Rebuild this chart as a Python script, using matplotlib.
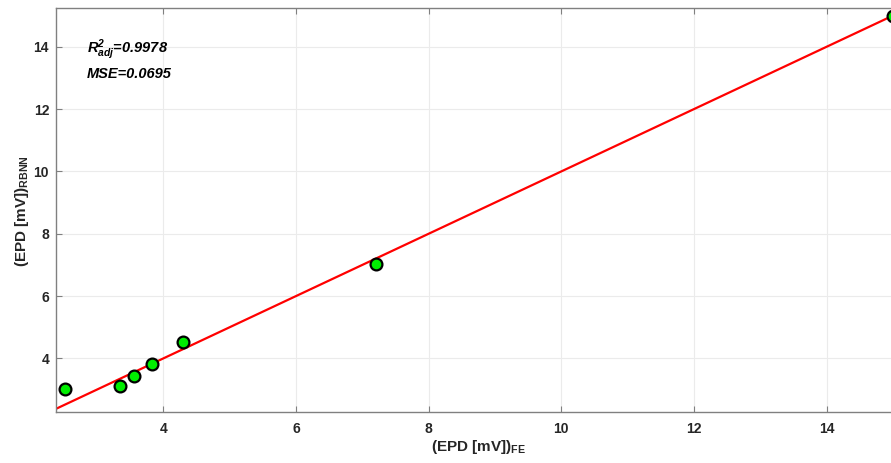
import numpy as np
import matplotlib
matplotlib.use('Agg')
import matplotlib.pyplot as plt

# data
epd_fe = [2.51, 3.34, 3.55, 3.83, 4.30, 7.20, 15.0]
epd_rbnn = [3.01, 3.13, 3.42, 3.81, 4.51, 7.04, 15.0]
r2_adj = 0.9978
mse = 0.0695
xticks = [4, 6, 8, 10, 12, 14]
yticks = [4, 6, 8, 10, 12, 14]

plt.rcParams['font.family'] = ['Liberation Sans', 'DejaVu Sans']
plt.rcParams['mathtext.fontset'] = 'custom'
plt.rcParams['mathtext.rm'] = 'Liberation Sans'
plt.rcParams['mathtext.bf'] = 'Liberation Sans:bold'
plt.rcParams['mathtext.it'] = 'Liberation Sans:italic'
plt.rcParams['mathtext.bfit'] = 'Liberation Sans:italic:bold'

fig = plt.figure(figsize=(8.91, 4.63), dpi=100)
ax = fig.add_axes([0.0629, 0.1095, 0.9765, 0.8743])

xlim = (2.382, 15.5)
ylim = (2.27, 15.26)

# fitted line (y = x)
ax.plot(xlim, xlim, color='#ff0000', lw=1.6, zorder=2)
ax.plot(epd_fe, epd_rbnn, 'o', ms=8.5, mfc='#00ee00', mec='black', mew=1.6, zorder=3, clip_on=False)

ax.set_xlim(*xlim)
ax.set_ylim(*ylim)
ax.set_xticks(xticks)
ax.set_yticks(yticks)

gray = '#808080'
for s in ax.spines.values():
    s.set_color(gray)
    s.set_linewidth(1.0)
ax.tick_params(direction='in', length=4, width=0.8, color=gray, labelcolor='#262626',
               labelsize=10, top=True, right=True)
ax.tick_params(axis='x', pad=7)
ax.tick_params(axis='y', pad=5)
for lbl in ax.get_xticklabels() + ax.get_yticklabels():
    lbl.set_fontweight('bold')
ax.grid(True, color='#ebebeb', lw=0.8)
ax.set_axisbelow(True)

ax.set_xlabel(r'$\mathbf{(EPD\ [mV])_{FE}}$', fontsize=11, color='#262626')
ax.xaxis.set_label_coords(0.485, -0.064)
ax.set_ylabel(r'$\mathbf{(EPD\ [mV])_{RBNN}}$', fontsize=11, color='#262626')
ax.yaxis.set_label_coords(-0.029, 0.497)

ax.text(2.85, 13.8, r'$\mathbfit{R}^{\mathbfit{2}}_{\mathbfit{adj}}$' + '=%.4f' % r2_adj,
        fontsize=10.5, fontweight='bold', style='italic', color='black')
ax.text(2.85, 13.0, 'MSE=%.4f' % mse,
        fontsize=10.5, fontweight='bold', style='italic', color='black')

fig.savefig('out.png', dpi=100)
